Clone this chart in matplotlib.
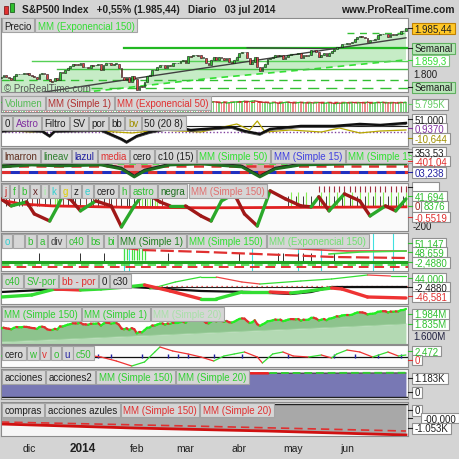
import numpy as np
import matplotlib
matplotlib.use("Agg")
import matplotlib.pyplot as plt
from matplotlib.patches import Rectangle
from matplotlib.collections import LineCollection
import matplotlib.transforms as mtrans

plt.rcParams['font.family'] = ['Liberation Sans', 'DejaVu Sans']

# ---------------- data ----------------
close = [1790.6, 1798.2, 1791.5, 1787.9, 1781.4, 1795.9, 1804.8, 1802.5, 1802.8, 1807.2, 1805.8,
         1800.9, 1795.2, 1792.8, 1785.0, 1805.1, 1808.4, 1802.6, 1782.2, 1775.5, 1775.3,
         1786.5, 1781.0, 1810.7, 1809.6, 1818.3, 1827.9, 1833.3, 1842.0, 1841.4, 1841.1, 1848.4,
         1832.0, 1831.4, 1826.8, 1837.9, 1837.5, 1838.1, 1842.4, 1819.2, 1838.9, 1848.4,
         1845.9, 1838.7, 1843.8, 1844.9, 1828.5, 1790.3, 1781.6, 1792.5, 1774.2, 1794.2, 1782.6,
         1741.9, 1755.2, 1751.6, 1773.4, 1797.0, 1799.8, 1819.8, 1819.3, 1829.8, 1838.6,
         1840.8, 1828.8, 1839.8, 1836.3, 1847.6, 1845.1, 1845.2, 1854.3, 1859.5,
         1845.7, 1873.9, 1873.8, 1877.0, 1878.0, 1877.2, 1867.6, 1868.2, 1846.3, 1841.1,
         1858.8, 1872.3, 1860.8, 1872.0, 1866.5, 1857.4, 1865.6, 1852.6, 1849.0, 1857.6, 1872.3,
         1885.5, 1890.9, 1888.8, 1865.1, 1845.0, 1852.0, 1872.2, 1833.1, 1815.7, 1830.6,
         1843.0, 1862.3, 1864.9, 1871.9, 1879.6, 1875.4, 1878.6, 1863.4, 1869.4, 1878.3, 1884.0,
         1883.7, 1881.1, 1884.7, 1867.7, 1878.2, 1875.6, 1878.5, 1896.7, 1897.5, 1888.5,
         1870.9, 1877.9, 1885.1, 1872.8, 1888.0, 1892.5, 1900.5, 1911.9, 1909.8, 1920.0, 1923.6,
         1925.0, 1924.2, 1927.9, 1940.5, 1949.4, 1951.3, 1950.8, 1943.9, 1930.1, 1936.2,
         1937.8, 1942.0, 1957.0, 1959.5, 1962.9, 1962.6, 1950.0, 1959.5, 1957.2, 1961.0, 1960.2,
         1973.3, 1974.6, 1985.44]

volume = [5600, 5900, 5400, 5700, 6100, 5800, 6200, 5500, 5300, 4800, 3900, 6000, 5900, 6300, 6000, 6400, 6100, 5700, 6500, 6200,
          5900, 6400, 5800, 6700, 5600, 5200, 3100, 4600, 5800, 4700, 4900, 4300, 5600, 5400, 6100, 6200, 5800, 6000, 5700, 6100,
          5900, 6500, 5600, 6100, 6000, 6800, 7200, 6700, 6300, 6900, 6600, 7000, 6400, 7300, 6800, 6500, 6200, 6000, 6300, 5800,
          5500, 5900, 5600, 5700, 5900, 5400, 5600, 5800, 5300, 5700, 5900, 6100, 6000, 6200, 5800, 5700, 5900, 6000, 5600, 6300,
          6200, 6000, 5800, 6100, 5900, 5600, 5400, 5800, 5300, 5500, 5600, 5900, 6000, 6200, 6100, 6400, 6300, 6200, 6500, 6600,
          6300, 6100, 5800, 5700, 5600, 5200, 5400, 5600, 5300, 5100, 5500, 5700, 5800, 5600, 5400, 5300, 5600, 5700, 5400, 5500,
          5200, 5600, 5300, 5500, 5700, 5400, 5200, 5300, 5600, 5400, 5100, 5000, 5300, 5200, 5400, 5500, 5300, 5700, 5600, 5400,
          5600, 5500, 5300, 5900, 5400, 5200, 5500, 5700, 5600, 5800, 5400, 5500, 5300, 5600, 5400, 5200, 5700, 5600, 5795]
vol_ema_idx = [0, 40, 80, 120, 158]
vol_ema_val = [5700, 5850, 5900, 5700, 5600]

month_labels = ['dic', '2014', 'feb', 'mar', 'abr', 'may', 'jun']
month_idx = [11, 32, 53, 72, 93, 114, 135]

# price panel overlays
ema150_idx = [0, 40, 80, 120, 158]
ema150_val = [1700, 1740, 1785, 1822, 1859.3]
level_val = [1905, 1856, 1822, 1780, 1748, 1965]
level_start = [48, 12, 22, 0, 35, 135]
trend_idx = [17, 158]
trend_val = [1733, 1946]
top_idx = [96, 130]
top_val = [1907, 1903]

# Astro panel
astro_idx = [0, 6, 16, 19, 21, 39, 47, 49, 53, 58, 68, 74, 90, 95, 101, 105, 117, 130, 140, 148, 158]
astro_val = [-5, -4, -5, -10, -5, -4, -13, -16, -10, -6, -1, -4, -1, -5, -8, -3, 0, 0, 2, 1, 3]
bv_idx = [0, 12, 23, 39, 51, 62, 78, 92, 97, 100, 103, 113, 125, 132, 140, 148, 158]
bv_val = [-4, -6, -3, -5, -7, -4, -6, 2, -4, 5, -6, -4, -6, -2, -7, -5, -4]

# lmarron panel
lin_idx = [0, 12, 23, 39, 47, 52, 56, 66, 78, 94, 101, 107, 117, 136, 158]
lin_val = [5, 7, 6, 7, 3, -5, 1, 7, 8, 5, -5, 3, 7, 8, 8]

# j f b panel oscillator
osc_idx = [0, 4, 10, 13, 19, 22, 24, 27, 31, 37, 43, 47, 52, 56, 62, 66, 72, 78, 82, 86, 91, 95,
           100, 105, 111, 117, 121, 124, 128, 134, 140, 144, 150, 154, 158]
osc_val = [73, 0, 42, -84, -158, -10, 105, 73, -52, 52, 0, -220, 0, 147, 42, 0, 0, -105, -158, 52, 126, -84,
           -210, 158, 73, 0, -10, 95, -52, 126, 52, -105, 0, -52, 73]
osc_ma_idx = [0, 8, 20, 50, 80, 120, 158]
osc_ma_val = [60, 20, 0, -15, -20, -15, -10]
tick_dark_idx = [0, 2, 3, 5, 7, 8, 10, 12, 14, 15, 17, 19, 21, 22, 24, 26, 28, 29, 31, 33, 35, 36, 38, 40,
                 42, 43, 45, 47, 49, 50, 52, 54, 56, 57, 59, 61, 63, 112, 115, 118, 121, 124, 127, 130, 133,
                 136, 139, 142, 145, 148, 151, 154, 157]
tick_green_idx = [21, 22, 23, 55, 57, 58, 60, 61, 113, 116, 119, 125, 128, 131, 134, 137, 140, 143, 146, 149,
                  152, 155, 158]
tick_top_idx = [124, 126, 128, 130, 132, 134, 136, 138, 140, 142, 144, 146, 148, 150, 152, 154, 156, 158]

# o b a div panel
div_idx = [15, 31, 40, 65, 93, 108, 110, 116, 118, 121, 130]
cyan_idx = [48, 50, 98, 116, 125, 145, 153]
bs_idx = [48, 49, 51, 52, 53, 54, 55, 56]
mm1_idx = [0, 20, 43, 55, 80, 100, 120, 130, 158]
mm1_val = [23, 20, 16, 12, 10, 8, 6, 5, 4]
mm150_idx = [97, 110, 125, 135, 158]
mm150_val = [15, 14, 12, 11, 11]
mmexp_idx = [128, 140, 158]
mmexp_val = [8, 10, 11]

# c40 panel
sv_idx = [0, 12, 21, 31, 39, 49, 56, 66, 78, 84, 94, 105, 113, 117, 129, 133, 143, 158]
sv_val = [-10, -8, -2, -3, -2, 0, 2, -4, -12, -12, -5, -5, -6, -5, -1, -2, -10, -11]
c40_idx = [0, 16, 39, 51, 58, 78, 97, 113, 121, 129, 158]
c40_val = [-5, -3, -1, 0, -1, -4, -5, -7, -5, 0, 0]
bb_idx = [58, 68, 78, 84, 94, 101, 117, 129, 143, 152, 158]
bb_val = [-2, 5, 10, 10, 5, 3, 6, 8, 12, 11, 11]

# MM 150 panel
sma150_idx = [0, 40, 80, 120, 158]
sma150_val = [1655, 1700, 1745, 1790, 1835]

# cero w v panel
w_idx = [0, 8, 18, 23, 31, 36, 39, 45, 51, 56, 60, 62, 67, 73, 78, 83, 87, 91, 95, 100, 102, 106, 110,
         114, 120, 125, 129, 131, 135, 140, 145, 151, 155, 158]
w_val = [0.7, 1.7, -1.3, -2.3, -0.3, 0.7, -0.3, -4.3, -9.3, -5.3, 4.7, 9.7, 5.7, 2.7, -0.3, -4.3, 0.7, 2.7,
         4.7, -0.3, -6.3, 2.7, 4.7, 0.7, -0.3, 1.7, -1.3, 2.7, 6.7, 4.7, -0.3, 4.7, 0.7, 1.7]
u_idx = [38, 43, 55, 65, 69, 73, 83, 94, 112, 130, 138, 147, 156]

# acciones panel
acc_idx = [0, 50, 100, 158]
acc_val = [1150, 1160, 1170, 1183]

# compras panel
compras_idx = [0, 52, 104, 158]
compras_val = [-680, -816, -918, -1053]
compras_ma_idx = [0, 80, 158]
compras_ma_val = [-612, -760, -918]

# ---------------- figure ----------------
W = H = 460
BG = '#d4d4d4'
fig = plt.figure(figsize=(W / 100, H / 100), dpi=100, facecolor=BG)
R = fig.canvas.get_renderer()
XMIN, XMAX = 0.0, 158.8
x = np.arange(len(close))
c = np.array(close)
op = np.concatenate([[c[0] - 3], c[:-1]])
up = c >= op


def panel(ytop, ybot, ylim, face='white'):
    ax = fig.add_axes([1 / W, 1 - ybot / H, 407 / W, (ybot - ytop) / H])
    ax.set_xlim(XMIN, XMAX)
    ax.set_ylim(*ylim)
    ax.set_xticks([])
    ax.set_yticks([])
    ax.set_facecolor(face)
    for s in ax.spines.values():
        s.set_color('#8c8c8c')
        s.set_linewidth(0.8)
    return ax


def slope_line(ax, xs, ys, upc, downc, lw, zorder=3):
    xs = np.asarray(xs, float)
    ys = np.asarray(ys, float)
    pts = np.column_stack([xs, ys])
    segs = np.stack([pts[:-1], pts[1:]], axis=1)
    cols = [upc if b >= a else downc for a, b in zip(ys[:-1], ys[1:])]
    ax.add_collection(LineCollection(segs, colors=cols, linewidths=lw, capstyle='round', zorder=zorder))


def label_row(ytop, items, x0=2, h=14, fs=7):
    xx = x0
    for s, col in items:
        t = fig.text(0, 0, s if s else ' ', fontsize=fs, color=col, zorder=21)
        w = t.get_window_extent(R).width if s else 6
        bw = w + 5
        fig.add_artist(Rectangle((xx / W, 1 - (ytop + h) / H), bw / W, h / H, transform=fig.transFigure,
                                 facecolor='#d6d6d6', edgecolor='#a4a4a4', lw=0.8, zorder=20))
        t.set_position(((xx + 2.5) / W, 1 - (ytop + h / 2 + 0.5) / H))
        t.set_va('center')
        xx += bw + 1


def rlabel(yc, s, color='black', face='white', edge='#909090', fs=7, xx=412, h=10, z=30):
    t = fig.text(0, 0, s, fontsize=fs, color=color, zorder=z + 1)
    w = t.get_window_extent(R).width
    fig.add_artist(Rectangle((xx / W, 1 - (yc + h / 2) / H), (w + 5) / W, h / H, transform=fig.transFigure,
                             facecolor=face, edgecolor=edge, lw=0.8, zorder=z))
    t.set_position(((xx + 2.5) / W, 1 - (yc + 0.5) / H))
    t.set_va('center')
    fig.add_artist(plt.Line2D([408 / W, 412 / W], [1 - yc / H] * 2, color=color, lw=0.8, zorder=z))


def rtext(yc, s, color='black', fs=7, xx=413):
    fig.text(xx / W, 1 - (yc + 0.5) / H, s, fontsize=fs, color=color, va='center', zorder=25)


# title bar
fig.text(22 / W, 1 - 10 / H, 'S&P500 Index   +0,55% (1.985,44)   Diario   03 jul 2014', fontsize=7.2,
         fontweight='bold', color='#202020', va='center')
fig.text(455 / W, 1 - 10 / H, 'www.ProRealTime.com', fontsize=7.4, fontweight='bold', color='#202020',
         va='center', ha='right')
fig.add_artist(Rectangle((4 / W, 1 - 15 / H), 4 / W, 8 / H, transform=fig.transFigure, facecolor='#e03030',
                         edgecolor='#802020', lw=0.6))
fig.add_artist(Rectangle((10 / W, 1 - 13 / H), 4 / W, 9 / H, transform=fig.transFigure, facecolor='#30c030',
                         edgecolor='#206020', lw=0.6))

# ---- panel 1: price ----
ax = panel(19, 93, (1733, 2024))
ax.fill(np.concatenate([x, ema150_idx[::-1]]), np.concatenate([c, ema150_val[::-1]]),
        color='#c6ecc6', lw=0, zorder=1)
ax.plot(ema150_idx, ema150_val, color='#33e033', lw=1.2, ls=(0, (4, 3)), zorder=2)
for v, s, k in zip(level_val, level_start, range(len(level_val))):
    sty = dict(color=['#22b822', '#55d055', '#44c044', '#33c033', '#33c033', '#33c033'][k],
               lw=[1.6, 1.0, 1.0, 1.0, 1.0, 1.0][k],
               ls=['-', '-', '-', (0, (6, 4)), (0, (8, 5)), (0, (5, 4))][k])
    ax.plot([s, XMAX], [v, v], zorder=2, **sty)
ax.plot(trend_idx, trend_val, color='#404040', lw=1.0, zorder=3)
ax.plot(top_idx, top_val, color='#404040', lw=0.8, zorder=3)
body = c - op
body = np.where(np.abs(body) < 1.5, np.where(body >= 0, 1.5, -1.5), body)
ax.bar(x, body, bottom=op, width=0.7, color=np.where(up, '#33c433', '#e04848'), edgecolor='#101010',
       lw=0.4, zorder=4)
ax.text(1, 1748, '© ProRealTime.com', fontsize=7, color='#555555', va='center', zorder=5)
label_row(19, [('Precio', '#202020'), ('MM (Exponencial 150)', '#33dd33')])
rlabel(29, '1.985,44', face='#ffc828', edge='#c08000', color='#202020', h=11)
rlabel(49, 'Semanal', face='#b9e6b9', edge='#60b060', color='#202020', h=11)
rlabel(61, '1.859,3', face='white', edge='#80c080', color='#33dd33', h=11)
rtext(75, '1.800', color='#202020')
rlabel(88, 'Semanal', face='#b9e6b9', edge='#60b060', color='#202020', h=11)

# ---- panel 2: volume ----
ax = panel(97, 113, (0, 9500))
ax.bar(x, volume, width=0.55, color=np.where(up, '#7ed67e', '#ec8a8a'), lw=0)
slope_line(ax, x, volume, '#30c030', '#c03030', 0.9)
ax.plot(vol_ema_idx, vol_ema_val, color='#e03030', lw=1.0, ls=(0, (3, 2)))
label_row(97, [('Volumen', '#55bb55'), ('MM (Simple 1)', '#b03030'), ('MM (Exponencial 50)', '#e03030')])
rlabel(105, '5.795K', color='#66cc66', h=11)

# ---- panel 3: astro ----
ax = panel(116, 147, (-20, 11))
ax.axhline(-6, color='#8040a0', lw=1.0, ls=(0, (1, 1.5)))
ax.plot([47, XMAX], [0, 0], color='#202020', lw=0.8)
ax.plot(bv_idx, bv_val, color='#b8a800', lw=0.9)
ax.plot(astro_idx, np.array(astro_val) - 1.5, color='#505050', lw=0.6)
ax.plot(astro_idx, astro_val, color='#101010', lw=1.8)
label_row(117, [('0', '#202020'), ('Astro', '#8030a0'), ('Filtro', '#202020'), ('SV', '#202020'),
                ('por', '#202020'), ('bb', '#202020'), ('bv', '#a09000'), ('50 (20 8)', '#202020')])
rlabel(120, '51,000', color='#202020')
rlabel(129, '0,9370', color='#8030a0')
rlabel(139, '-10,644', color='#a09000', h=11)

# ---- panel 4: lmarron ----
ax = panel(149, 182, (-9, 24))
li = np.array(lin_val, float)
ax.fill_between(lin_idx, li, 8, where=li < 6, interpolate=True, color='#d9aaaa', lw=0)
ax.axhline(8, color='#44dd44', lw=1.2, ls=(0, (4, 3)))
ax.axhline(6, color='#e03030', lw=1.8, ls=(0, (4, 3)))
ax.axhline(0, color='#2030c0', lw=2.2)
ax.axhline(0, color='#e03030', lw=2.2, ls=(0, (3, 3)))
ax.plot(lin_idx, li + 1.5, color='#202020', lw=1.2)
ax.plot(lin_idx, li, color='#207020', lw=2.0)
label_row(150, [('lmarron', '#603020'), ('lineav', '#308030'), ('lazul', '#2020a0'), ('media', '#e03030'),
                ('cero', '#202020'), ('c10 (15)', '#202020'), ('MM (Simple 50)', '#30e030'),
                ('MM (Simple 15)', '#4040e0'), ('MM (Simple 15)', '#30e030')])
rlabel(153, '353,53', color='#202020')
rlabel(162, '-401,04', color='#e03030')
rlabel(173, '03,238', color='#2020a0', h=11)

# ---- panel 5: j f b ----
ax = panel(184, 232, (-263, 240), face='#fafafa')
ax.vlines(tick_dark_idx, 0, 100, colors=['#202020' if i % 3 else '#902020' for i in tick_dark_idx], lw=0.6)
ax.vlines(tick_green_idx, 0, 147, colors='#88ee55', lw=0.8)
ax.vlines(tick_top_idx, 150, 205, colors='#a03040', lw=0.8)
ax.plot(osc_ma_idx, osc_ma_val, color='#e02020', lw=2.0)
slope_line(ax, osc_idx, osc_val, '#2aa82a', '#a01818', 2.4)
label_row(185, [('j', '#c02020'), ('f', '#30c030'), ('b', '#30c030'), ('x', '#602020'), ('i', '#a0f0a0'),
                ('k', '#30d0d0'), ('g', '#e0d000'), ('z', '#202020'), ('e', '#30d0d0'), ('cero', '#202020'),
                ('h', '#30c030'), ('astro', '#30c030'), ('negra', '#207020'), ('MM (Simple 150)', '#e07070')])
rlabel(188, '        ', color='#202020')
rlabel(197, '41,694', color='#30c030')
rlabel(207, '0', color='#a02020', h=11)
rlabel(207, '8376', color='#30c030', xx=421, h=11)
rlabel(218, '-0,5519', color='#e03030')
rtext(227, '-200', color='#202020')

# ---- panel 6: o b a div ----
ax = panel(234, 272, (-9, 29))
ax.vlines(cyan_idx, -9, 29, colors='#40e0e0', lw=0.8)
ax.vlines(bs_idx, 2, 14, colors='#44e044', lw=0.9)
ax.vlines(div_idx, 0, 9, colors='#303030', lw=0.7)
ax.axhline(-3, color='#44dd44', lw=1.2, ls=(0, (5, 3)))
ax.axhline(-5, color='#e03030', lw=1.4, ls=(0, (5, 3)))
ax.plot(mm1_idx, mm1_val, color='#e03030', lw=1.6, ls=(0, (6, 2)))
ax.plot(mm150_idx, mm150_val, color='#e04040', lw=1.2)
ax.plot(mmexp_idx, mmexp_val, color='#44dd44', lw=1.2)
ax.axhline(0, color='#22a022', lw=2.2)
label_row(235, [('o', '#30d0d0'), ('', '#202020'), ('b', '#30c030'), ('a', '#30c030'), ('div', '#404040'),
                ('c40', '#30c030'), ('bs', '#30c030'), ('bi', '#30c030'), ('MM (Simple 1)', '#208020'),
                ('MM (Simple 150)', '#30e030'), ('MM (Exponencial 150)', '#70e070')])
rlabel(244, '51,147', color='#30c030')
rlabel(253, '48,659', color='#30c030')
rlabel(263, '-2,4880', color='#30c030', h=11)

# ---- panel 7: c40 ----
ax = panel(274, 305, (-17, 14))
ax.axhline(0, color='#202020', lw=0.8)
ax.axhline(1, color='#e03030', lw=0.9, ls=(0, (1, 3)))
slope_line(ax, bb_idx, bb_val, '#33dd33', '#ee4444', 0.9)
ax.plot(c40_idx, c40_val, color='#101010', lw=1.6)
slope_line(ax, sv_idx, sv_val, '#33dd33', '#ee3333', 2.4)
label_row(275, [('c40', '#30c030'), ('SV-por', '#30c030'), ('bb - por', '#e03030'), ('0', '#202020'),
                ('c30', '#202020')])
rlabel(279, '44,000', color='#30c030')
rlabel(288, '-2,4880', color='#202020')
rlabel(297, '-46,581', color='#e03030', h=11)

# ---- panel 8: MM simple 150 ----
ax = panel(307, 345, (1635, 2015))
ax.fill_between(sma150_idx, sma150_val, 1600, color='#b3d9b3', lw=0)
ax.fill(np.concatenate([x, sma150_idx[::-1]]), np.concatenate([c, sma150_val[::-1]]), color='#8dc38d', lw=0)
ax.plot(sma150_idx, sma150_val, color='#9ed09e', lw=0.8)
slope_line(ax, x, c, '#22ee22', '#e03030', 1.6)
label_row(308, [('MM (Simple 150)', '#30d030'), ('MM (Simple 1)', '#30d030'), ('MM (Simple 20)', '#a8e0a8')])
rtext(336, '1.600M', color='#202040')
rlabel(315, '1.984M', color='#30c030', h=11)
rlabel(325, '1.835M', color='#30c030', h=11)

# ---- panel 9: cero w v ----
ax = panel(346, 368, (-10.3, 11.7), face='#fcfcfc')
ax.axhline(0, color='#101010', lw=0.9)
ax.plot(u_idx, np.zeros(len(u_idx)) + 0.6, ls='none', marker='|', ms=3, color='#2020a0', mew=1)
slope_line(ax, w_idx, w_val, '#33dd33', '#ee3333', 0.9)
label_row(347, [('cero', '#202020'), ('w', '#30c030'), ('v', '#e03030'), ('o', '#30c030'), ('u', '#2020a0'),
                ('c50', '#30c030')])
rlabel(352, '2,472', color='#30c030')
rlabel(361, '0', color='#e03030')

# ---- panel 10: acciones ----
ax = panel(370, 400, (-99, 1380))
ax.fill_between(acc_idx, acc_val, 0, color='#7878b4', lw=0)
ax.plot(acc_idx, acc_val, color='#202020', lw=0.8)
ax.plot(acc_idx, np.array(acc_val) + 10, color='#33cc33', lw=1.4, ls=(0, (4, 2)))
ax.plot([0, 104], [1165, 1168], color='#ee2222', lw=1.8)
ax.axhline(0, color='#202020', lw=1.0)
label_row(371, [('acciones', '#202020'), ('acciones2', '#202020'), ('MM (Simple 150)', '#30d030'),
                ('MM (Simple 20)', '#30d030')])
rlabel(379, '1.183K', color='#202020', h=11)
rlabel(393, '0', color='#202020', h=11)

# ---- panel 11: compras ----
ax = panel(403, 437, (-1087, 68), face='#f6f6f6')
ax.fill_between(compras_idx, compras_val, 0, color='#a8a8a8', lw=0)
ax.axhline(0, color='#202020', lw=1.0)
ax.plot(compras_idx, compras_val, color='#d01010', lw=2.0)
ax.plot(compras_ma_idx, compras_ma_val, color='#e03030', lw=1.2, ls=(0, (5, 3)))
label_row(404, [('compras', '#202020'), ('acciones azules', '#202020'), ('MM (Simple 150)', '#e03030'),
                ('MM (Simple 20)', '#e03030')])
rlabel(411, '0', color='#202020', h=11)
rlabel(419, '-00,000', color='#202020', xx=421)
rlabel(429, '-1.053K', color='#202020', h=11)

# x axis labels
tr = mtrans.blended_transform_factory(ax.transData, fig.transFigure)
for lab, i in zip(month_labels, month_idx):
    bold = lab == '2014'
    ax.text(i, 1 - 449 / H, lab, transform=tr, ha='center', va='center',
            fontsize=8.5 if bold else 7.5, fontweight='bold' if bold else 'normal', color='#202020')

fig.savefig('out.png', dpi=100, facecolor=BG)
